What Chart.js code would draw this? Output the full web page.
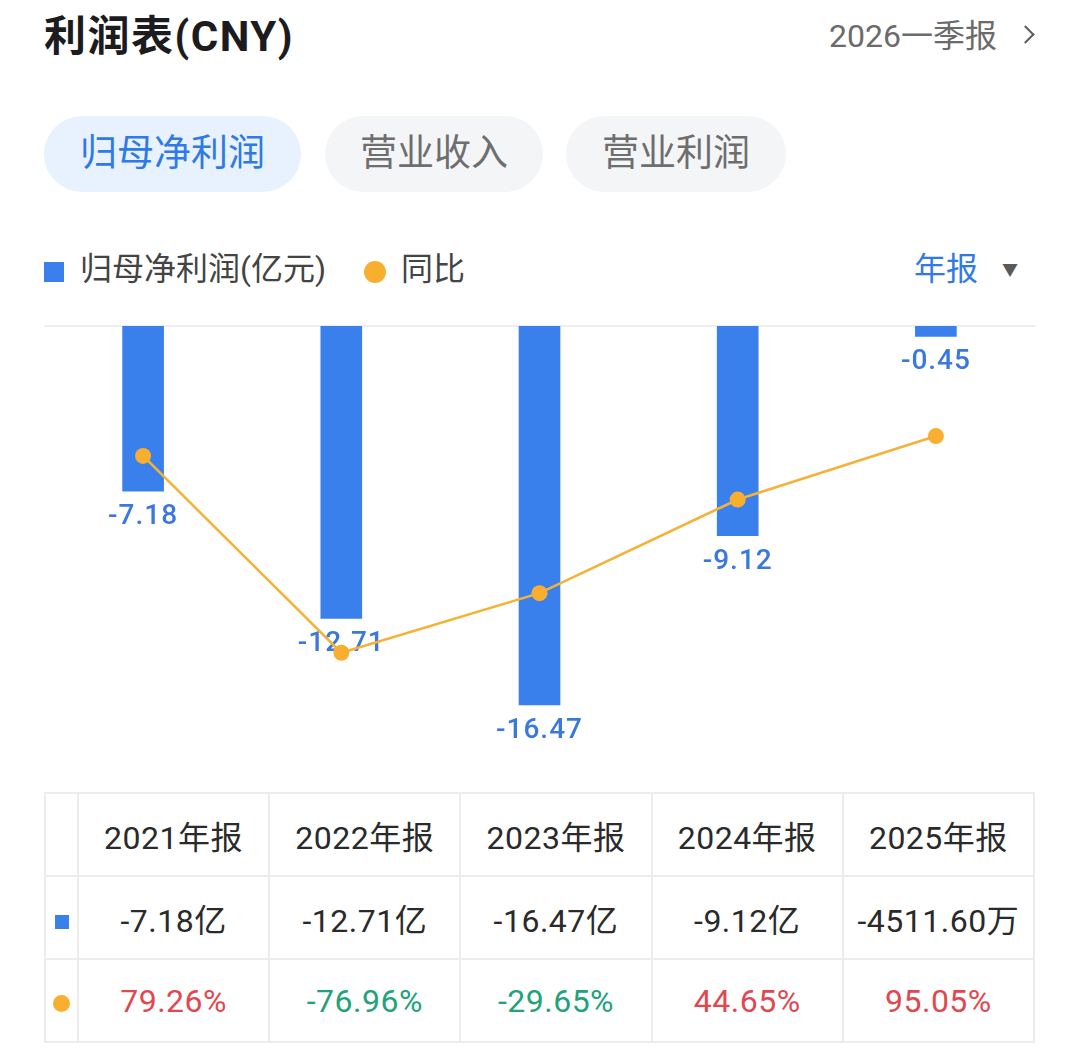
<!DOCTYPE html>
<html lang="zh">
<head>
<meta charset="UTF-8">
<title>利润表(CNY)</title>
<script src="https://cdn.jsdelivr.net/npm/chart.js"></script>
<style>
    body { margin: 0; background: #fff; font-family: Roboto, "Noto Sans CJK SC", sans-serif; }
    .page { position: relative; width: 1080px; height: 1056px; overflow: hidden; }
    .title { position: absolute; left: 44px; top: 2px; font-size: 42px; font-weight: bold; color: #1c1c1e; letter-spacing: 1.5px; }
    .period { position: absolute; right: 48px; top: 10px; font-size: 32px; color: #6b6b6b; }
    .period i { display: inline-block; width: 11px; height: 11px; margin-left: 22px; vertical-align: 6px;
                border-top: 2.5px solid #5e5e5e; border-right: 2.5px solid #5e5e5e; transform: rotate(45deg); }
    .tab { position: absolute; top: 116px; height: 76px; line-height: 76px; border-radius: 38px;
           background: #f4f5f7; color: #6e6e6e; font-size: 37px; text-align: center; }
    .tab.on { background: #e8f1fe; color: #2f7ae5; }
    .legend { position: absolute; top: 247px; left: 44px; font-size: 32px; color: #444; line-height: 44px; }
    .legend i { display: inline-block; vertical-align: middle; }
    .sq { width: 20px; height: 20px; background: #3a80ec; margin-right: 16px; }
    .dot { width: 22px; height: 22px; border-radius: 50%; background: #f8ae2f; margin: 0 15px 0 38px; }
    .freq { position: absolute; top: 247px; right: 62px; font-size: 32px; color: #2f7ae5; line-height: 44px; }
    .freq span { color: #5a5a5a; font-size: 16px; margin-left: 24px; vertical-align: 4px; }
    #chartBox { position: absolute; left: 44px; top: 316px; width: 991px; height: 444px; }
    table { position: absolute; left: 44px; top: 792px; width: 991px; border-collapse: collapse; table-layout: fixed; }
    td { border: 2px solid #ececec; height: 81px; text-align: center; font-size: 32px; color: #2a2a2a; padding: 0; letter-spacing: 0.5px; }
    td.k { width: 31px; }
    .tsq { display: inline-block; width: 14px; height: 14px; background: #3a80ec; }
    .tdot { display: inline-block; width: 17px; height: 17px; border-radius: 50%; background: #f8ae2f; }
</style>
</head>
<body>
<div class="page">
    <div class="title">利润表(CNY)</div>
    <div class="period">2026一季报<i></i></div>
    <div class="tab on" style="left:44px;width:257px;">归母净利润</div>
    <div class="tab" style="left:325px;width:218px;">营业收入</div>
    <div class="tab" style="left:566px;width:220px;">营业利润</div>
    <div class="legend"><i class="sq"></i>归母净利润(亿元)<i class="dot"></i>同比</div>
    <div class="freq">年报<span>▼</span></div>
    <div id="chartBox"><canvas id="profitChart"></canvas></div>
    <table id="dataTable"></table>
</div>

<script>
    // values
    const periods = ['2021年报', '2022年报', '2023年报', '2024年报', '2025年报'];
    const netProfit = [-7.18, -12.71, -16.47, -9.12, -0.451160];   // 亿元
    const yoyGrowth = [79.26, -76.96, -29.65, 44.65, 95.05];       // %

    const BLUE = '#3a80ec';
    const ORANGE = '#f8ae2f';

    // zero line + value labels under each bar
    const barLabels = {
        id: 'barLabels',
        beforeDatasetsDraw(chart) {
            const { ctx, chartArea, scales } = chart;
            const y0 = scales.y.getPixelForValue(0);
            ctx.save();
            ctx.strokeStyle = '#e9e9e9';
            ctx.lineWidth = 1.5;
            ctx.beginPath();
            ctx.moveTo(chartArea.left, y0);
            ctx.lineTo(chartArea.right, y0);
            ctx.stroke();
            ctx.restore();
        },
        afterDatasetDraw(chart, args) {
            if (args.index !== 0) return;
            const { ctx } = chart;
            ctx.save();
            ctx.fillStyle = '#3b78de';
            ctx.font = '500 28px Roboto, "Noto Sans CJK SC"';
            ctx.letterSpacing = '1px';
            ctx.textAlign = 'center';
            ctx.textBaseline = 'middle';
            args.meta.data.forEach((bar, i) => {
                ctx.fillText(netProfit[i].toFixed(2), bar.x, bar.y + 26);
            });
            ctx.restore();
        }
    };

    new Chart(document.getElementById('profitChart'), {
        data: {
            labels: periods,
            datasets: [
                {
                    type: 'bar',
                    label: '归母净利润(亿元)',
                    data: netProfit,
                    backgroundColor: BLUE,
                    barThickness: 41,
                    yAxisID: 'y',
                    order: 1
                },
                {
                    type: 'line',
                    label: '同比',
                    data: yoyGrowth,
                    borderColor: '#f4b236',
                    borderWidth: 2.5,
                    tension: 0,
                    pointRadius: 8,
                    pointBorderWidth: 0,
                    pointBackgroundColor: ORANGE,
                    yAxisID: 'y2',
                    order: 0
                }
            ]
        },
        options: {
            responsive: true,
            maintainAspectRatio: false,
            animation: false,
            layout: { autoPadding: false, padding: { top: 10, left: 0, right: 0, bottom: 0 } },
            plugins: { legend: { display: false }, tooltip: { enabled: false } },
            scales: {
                x: { display: false, offset: true },
                y: { display: false, min: -18.87, max: 0 },
                y2: { display: false, min: -162.1, max: 182.4 }
            }
        },
        plugins: [barLabels]
    });

    // table under the chart
    function fmtProfit(v) {
        if (Math.abs(v) < 1) return (v * 10000).toFixed(2) + '万';
        return v.toFixed(2) + '亿';
    }
    const table = document.getElementById('dataTable');
    let html = '<tr><td class="k"></td>' + periods.map(p => '<td>' + p + '</td>').join('') + '</tr>';
    html += '<tr><td class="k"><span class="tsq"></span></td>' +
        netProfit.map(v => '<td>' + fmtProfit(v) + '</td>').join('') + '</tr>';
    html += '<tr><td class="k"><span class="tdot"></span></td>' +
        yoyGrowth.map(v => '<td style="color:' + (v >= 0 ? '#e2474f' : '#21a27a') + '">' +
            v.toFixed(2) + '%</td>').join('') + '</tr>';
    table.innerHTML = html;
</script>
</body>
</html>
